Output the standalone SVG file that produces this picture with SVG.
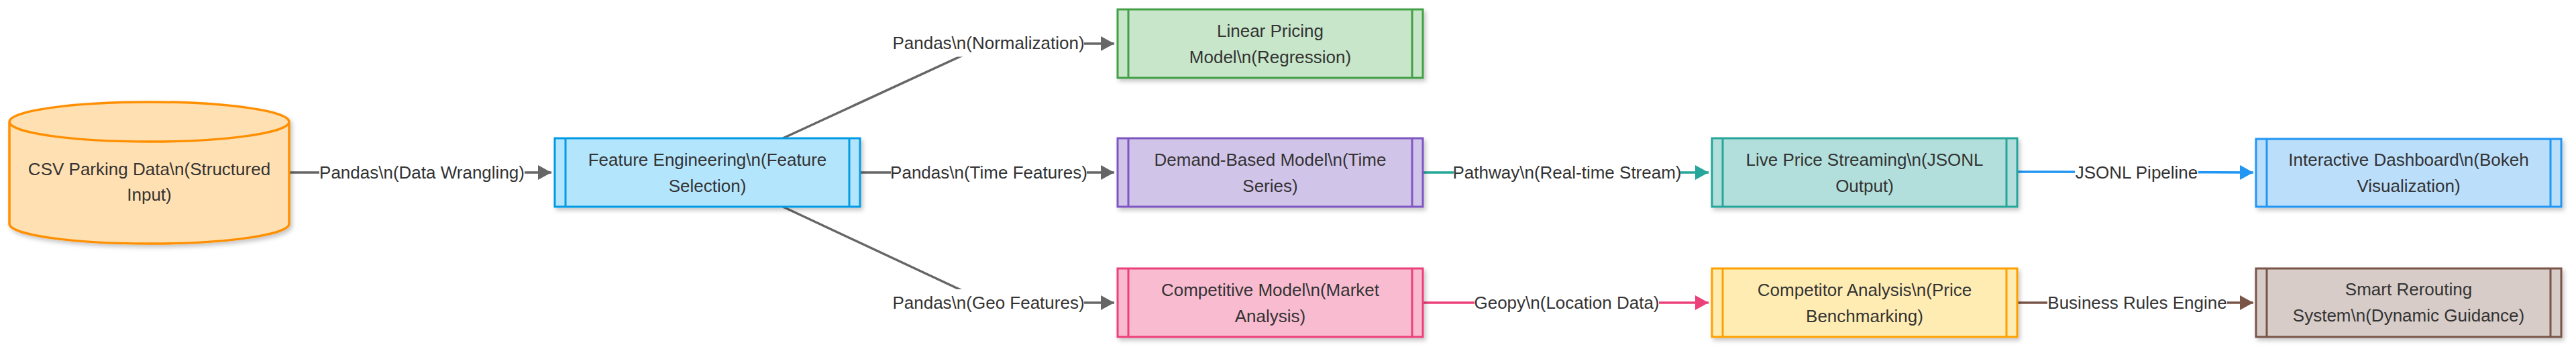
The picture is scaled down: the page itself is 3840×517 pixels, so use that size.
<svg xmlns="http://www.w3.org/2000/svg" width="3840" height="517" viewBox="0 0 3840 517">
<style>
text{font-family:"Liberation Sans",Arial,sans-serif;font-size:26px;fill:#333;text-anchor:middle}
.edge{fill:none;stroke-width:3.5}
.lbg{fill:#fff}
.inner{stroke-width:3}
.outer{stroke-width:3}
</style>
<defs>
<filter id="sh" x="-5%" y="-10%" width="115%" height="140%">
<feDropShadow dx="3" dy="4" stdDeviation="3" flood-color="#000" flood-opacity="0.22"/>
</filter>
<marker id="aGray" markerUnits="userSpaceOnUse" viewBox="0 0 20 22" refX="20" refY="11" markerWidth="20" markerHeight="22" orient="auto"><path d="M0,0 L20,11 L0,22 z" fill="#666"/></marker>
<marker id="aTeal" markerUnits="userSpaceOnUse" viewBox="0 0 20 22" refX="20" refY="11" markerWidth="20" markerHeight="22" orient="auto"><path d="M0,0 L20,11 L0,22 z" fill="#26A69A"/></marker>
<marker id="aBlue" markerUnits="userSpaceOnUse" viewBox="0 0 20 22" refX="20" refY="11" markerWidth="20" markerHeight="22" orient="auto"><path d="M0,0 L20,11 L0,22 z" fill="#2196F3"/></marker>
<marker id="aPink" markerUnits="userSpaceOnUse" viewBox="0 0 20 22" refX="20" refY="11" markerWidth="20" markerHeight="22" orient="auto"><path d="M0,0 L20,11 L0,22 z" fill="#EC407A"/></marker>
<marker id="aBrown" markerUnits="userSpaceOnUse" viewBox="0 0 20 22" refX="20" refY="11" markerWidth="20" markerHeight="22" orient="auto"><path d="M0,0 L20,11 L0,22 z" fill="#795548"/></marker>
</defs>
<rect width="3840" height="517" fill="#fff"/>

<g id="connectors">
<path class="edge" stroke="#666" d="M432,257 L822,257" marker-end="url(#aGray)"/>
<path class="edge" stroke="#666" d="M1167,206 L1473,65 L1661,65" marker-end="url(#aGray)"/>
<path class="edge" stroke="#666" d="M1282,257 L1661,257" marker-end="url(#aGray)"/>
<path class="edge" stroke="#666" d="M1167,308 L1473,451 L1661,451" marker-end="url(#aGray)"/>
<path class="edge" stroke="#26A69A" d="M2121,257 L2547,257" marker-end="url(#aTeal)"/>
<path class="edge" stroke="#2196F3" d="M3007,256 L3359,257" marker-end="url(#aBlue)"/>
<path class="edge" stroke="#EC407A" d="M2121,451 L2547,451" marker-end="url(#aPink)"/>
<path class="edge" stroke="#795548" d="M3007,451 L3359,451" marker-end="url(#aBrown)"/>

<rect class="lbg" x="476" y="237.5" width="306" height="39"/>
<text x="629" y="266">Pandas\n(Data Wrangling)</text>
<rect class="lbg" x="1331" y="45.5" width="285" height="39"/>
<text x="1473.5" y="73">Pandas\n(Normalization)</text>
<rect class="lbg" x="1328" y="237.5" width="292" height="39"/>
<text x="1474" y="266">Pandas\n(Time Features)</text>
<rect class="lbg" x="1331" y="431" width="285" height="39"/>
<text x="1473.5" y="459.5">Pandas\n(Geo Features)</text>
<rect class="lbg" x="2167" y="237.5" width="338" height="39"/>
<text x="2336" y="266">Pathway\n(Real-time Stream)</text>
<rect class="lbg" x="3093" y="237.5" width="184" height="39"/>
<text x="3185" y="266">JSONL Pipeline</text>
<rect class="lbg" x="2198" y="431" width="275" height="39"/>
<text x="2335.5" y="459.5">Geopy\n(Location Data)</text>
<rect class="lbg" x="3052" y="431" width="268" height="39"/>
<text x="3186" y="459.5">Business Rules Engine</text>
</g>

<g id="csv">
<path filter="url(#sh)" d="M14,181.5 a208.5,29.5 0 0,0 417,0 a208.5,29.5 0 0,0 -417,0 l0,152 a208.5,29.5 0 0,0 417,0 l0,-152" fill="#FFE0B2" stroke="#FF8F00" stroke-width="3.5"/>
<text x="222.5" y="261">CSV Parking Data\n(Structured</text>
<text x="222.5" y="299">Input)</text>
</g>

<g id="feature">
<rect class="outer" filter="url(#sh)" x="827" y="206" width="455" height="102" fill="#B3E5FC" stroke="#039BE5"/>
<line class="inner" x1="843" y1="206" x2="843" y2="308" stroke="#039BE5"/>
<line class="inner" x1="1266" y1="206" x2="1266" y2="308" stroke="#039BE5"/>
<text x="1054.5" y="247">Feature Engineering\n(Feature</text>
<text x="1054.5" y="286">Selection)</text>
</g>

<g id="linear">
<rect class="outer" filter="url(#sh)" x="1666" y="14" width="455" height="102" fill="#C8E6C9" stroke="#43A047"/>
<line class="inner" x1="1682" y1="14" x2="1682" y2="116" stroke="#43A047"/>
<line class="inner" x1="2105" y1="14" x2="2105" y2="116" stroke="#43A047"/>
<text x="1893.5" y="55">Linear Pricing</text>
<text x="1893.5" y="94">Model\n(Regression)</text>
</g>

<g id="demand">
<rect class="outer" filter="url(#sh)" x="1666" y="206" width="455" height="102" fill="#D1C4E9" stroke="#7E57C2"/>
<line class="inner" x1="1682" y1="206" x2="1682" y2="308" stroke="#7E57C2"/>
<line class="inner" x1="2105" y1="206" x2="2105" y2="308" stroke="#7E57C2"/>
<text x="1893.5" y="247">Demand-Based Model\n(Time</text>
<text x="1893.5" y="286">Series)</text>
</g>

<g id="competitive">
<rect class="outer" filter="url(#sh)" x="1666" y="400" width="455" height="102" fill="#F8BBD0" stroke="#EC407A"/>
<line class="inner" x1="1682" y1="400" x2="1682" y2="502" stroke="#EC407A"/>
<line class="inner" x1="2105" y1="400" x2="2105" y2="502" stroke="#EC407A"/>
<text x="1893.5" y="441">Competitive Model\n(Market</text>
<text x="1893.5" y="480">Analysis)</text>
</g>

<g id="live">
<rect class="outer" filter="url(#sh)" x="2552" y="206" width="455" height="102" fill="#B2DFDB" stroke="#26A69A"/>
<line class="inner" x1="2568" y1="206" x2="2568" y2="308" stroke="#26A69A"/>
<line class="inner" x1="2991" y1="206" x2="2991" y2="308" stroke="#26A69A"/>
<text x="2779.5" y="247">Live Price Streaming\n(JSONL</text>
<text x="2779.5" y="286">Output)</text>
</g>

<g id="competitor">
<rect class="outer" filter="url(#sh)" x="2552" y="400" width="455" height="102" fill="#FFECB3" stroke="#FFA000"/>
<line class="inner" x1="2568" y1="400" x2="2568" y2="502" stroke="#FFA000"/>
<line class="inner" x1="2991" y1="400" x2="2991" y2="502" stroke="#FFA000"/>
<text x="2779.5" y="441">Competitor Analysis\n(Price</text>
<text x="2779.5" y="480">Benchmarking)</text>
</g>

<g id="dashboard">
<rect class="outer" filter="url(#sh)" x="3363" y="207" width="455" height="101" fill="#BBDEFB" stroke="#2196F3"/>
<line class="inner" x1="3379" y1="207" x2="3379" y2="308" stroke="#2196F3"/>
<line class="inner" x1="3802" y1="207" x2="3802" y2="308" stroke="#2196F3"/>
<text x="3590.5" y="247">Interactive Dashboard\n(Bokeh</text>
<text x="3590.5" y="286">Visualization)</text>
</g>

<g id="rerouting">
<rect class="outer" filter="url(#sh)" x="3363" y="400" width="455" height="102" fill="#D7CCC8" stroke="#795548"/>
<line class="inner" x1="3379" y1="400" x2="3379" y2="502" stroke="#795548"/>
<line class="inner" x1="3802" y1="400" x2="3802" y2="502" stroke="#795548"/>
<text x="3590.5" y="440">Smart Rerouting</text>
<text x="3590.5" y="479">System\n(Dynamic Guidance)</text>
</g>
</svg>
